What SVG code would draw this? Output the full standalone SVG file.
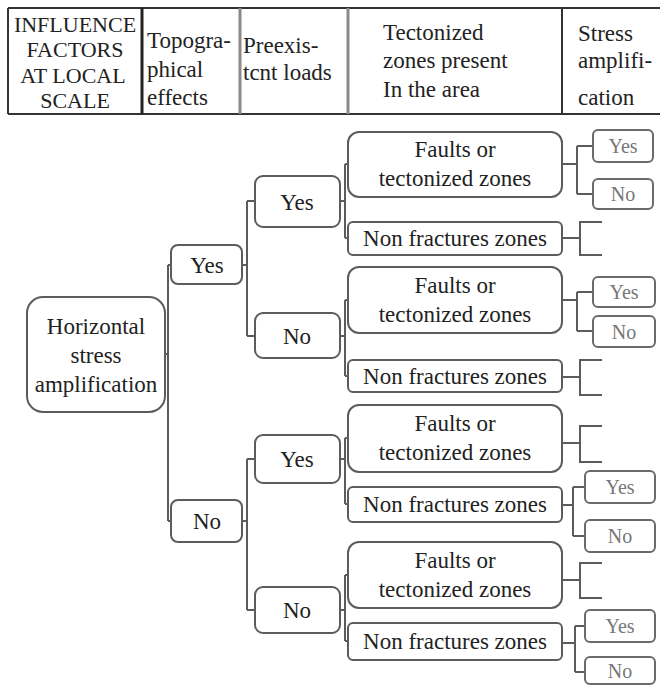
<svg xmlns="http://www.w3.org/2000/svg" width="665" height="686" viewBox="0 0 665 686" font-family="'Liberation Serif', 'Times New Roman', 'DejaVu Serif', serif">
<style>
text{font-family:'Liberation Serif','Times New Roman','DejaVu Serif',serif;fill:#222;}
.h{font-size:23px;}
.h1{font-size:22px;}
.t{font-size:23px;text-anchor:middle;}
.s{font-size:20px;text-anchor:middle;fill:#777;}
.box{fill:#fff;stroke:#5c5c5c;stroke-width:2;}
.sbox{fill:#fff;stroke:#6a6a6a;stroke-width:2;}
.c{fill:none;stroke:#5c5c5c;stroke-width:2;}
.g{stroke:#8a8a8a;stroke-width:3;}
.d{stroke:#333;stroke-width:2;}
</style>
<g id="header">
<line x1="8" y1="8" x2="660" y2="8" class="d"/>
<line x1="8" y1="114" x2="660" y2="114" class="d"/>
<line x1="8" y1="8" x2="8" y2="114" class="d"/>
<line x1="142" y1="8" x2="142" y2="114" stroke="#222" stroke-width="3"/>
<line x1="240" y1="8" x2="240" y2="114" class="g"/>
<line x1="348" y1="8" x2="348" y2="114" class="g"/>
<line x1="562" y1="8" x2="562" y2="114" class="d"/>
<text class="h1" text-anchor="middle"><tspan x="75" y="32">INFLUENCE</tspan><tspan x="75" y="57">FACTORS</tspan><tspan x="73" y="83">AT LOCAL</tspan><tspan x="75" y="108">SCALE</tspan></text>
<text class="h"><tspan x="147" y="48">Topogra-</tspan><tspan x="147" y="77">phical</tspan><tspan x="147" y="105">effects</tspan></text>
<text class="h"><tspan x="243" y="53">Preexis-</tspan><tspan x="243" y="80">tcnt loads</tspan></text>
<text class="h"><tspan x="383" y="40">Tectonized</tspan><tspan x="383" y="68">zones present</tspan><tspan x="383" y="97">In the area</tspan></text>
<text class="h"><tspan x="578" y="41">Stress</tspan><tspan x="578" y="68">amplifi-</tspan><tspan x="578" y="105">cation</tspan></text>
</g>
<g id="connectors" class="c">
<path d="M165 354H168M168 265V521M168 265H172M168 521H172"/>
<path d="M242 265H247M247 201V336M247 201H255M247 336H255"/>
<path d="M242 521H247M247 459V610M247 459H255M247 610H255"/>
<path d="M340 201H345M345 164V238M345 164H348M345 238H348"/>
<path d="M340 336H345M345 300V376M345 300H348M345 376H348"/>
<path d="M340 459H345M345 438V504M345 438H348M345 504H348"/>
<path d="M340 610H345M345 575V641M345 575H348M345 641H348"/>
<path d="M562 164H577M577 146V194M577 146H593M577 194H593"/>
<path d="M562 238H580M602 222H580V255H602"/>
<path d="M562 300H577M577 292V331M577 292H593M577 331H593"/>
<path d="M562 377H580M602 360H580V395H602"/>
<path d="M562 443H580M602 426H580V462H602"/>
<path d="M562 505H573M573 487V536M573 487H585M573 536H585"/>
<path d="M562 580H580M602 563H580V598H602"/>
<path d="M562 643H575M575 626V672M575 626H585M575 672H585"/>
</g>
<g id="root">
<rect x="27" y="297" width="138" height="115" rx="16" class="box"/>
<text class="t"><tspan x="96" y="334">Horizontal</tspan><tspan x="96" y="363">stress</tspan><tspan x="96" y="392">amplification</tspan></text>
</g>
<g id="l1-yes"><rect x="171" y="245" width="71" height="39" rx="7" class="box"/><text class="t" x="207" y="273">Yes</text></g>
<g id="l1-no"><rect x="171" y="500" width="71" height="42" rx="7" class="box"/><text class="t" x="207" y="529">No</text></g>
<g id="l2-yes1"><rect x="255" y="176" width="85" height="51" rx="8" class="box"/><text class="t" x="297" y="210">Yes</text></g>
<g id="l2-no1"><rect x="255" y="313" width="85" height="45" rx="8" class="box"/><text class="t" x="297" y="344">No</text></g>
<g id="l2-yes2"><rect x="255" y="435" width="85" height="48" rx="8" class="box"/><text class="t" x="297" y="467">Yes</text></g>
<g id="l2-no2"><rect x="255" y="587" width="85" height="46" rx="8" class="box"/><text class="t" x="297" y="618">No</text></g>
<g id="l3-f1"><rect x="348" y="132" width="214" height="65" rx="11" class="box"/><text class="t"><tspan x="455" y="157">Faults or</tspan><tspan x="455" y="186">tectonized zones</tspan></text></g>
<g id="l3-n1"><rect x="348" y="222" width="214" height="33" rx="5" class="box"/><text class="t" x="455" y="246">Non fractures zones</text></g>
<g id="l3-f2"><rect x="348" y="267" width="214" height="66" rx="11" class="box"/><text class="t"><tspan x="455" y="293">Faults or</tspan><tspan x="455" y="322">tectonized zones</tspan></text></g>
<g id="l3-n2"><rect x="348" y="360" width="214" height="32" rx="5" class="box"/><text class="t" x="455" y="384">Non fractures zones</text></g>
<g id="l3-f3"><rect x="348" y="405" width="214" height="67" rx="11" class="box"/><text class="t"><tspan x="455" y="431">Faults or</tspan><tspan x="455" y="460">tectonized zones</tspan></text></g>
<g id="l3-n3"><rect x="348" y="487" width="214" height="35" rx="5" class="box"/><text class="t" x="455" y="512">Non fractures zones</text></g>
<g id="l3-f4"><rect x="348" y="542" width="214" height="66" rx="11" class="box"/><text class="t"><tspan x="455" y="568">Faults or</tspan><tspan x="455" y="597">tectonized zones</tspan></text></g>
<g id="l3-n4"><rect x="348" y="623" width="214" height="37" rx="5" class="box"/><text class="t" x="455" y="649">Non fractures zones</text></g>
<g id="l4-y1"><rect x="593" y="130" width="60" height="32" rx="5" class="sbox"/><text class="s" x="623" y="153">Yes</text></g>
<g id="l4-n1"><rect x="593" y="179" width="60" height="30" rx="5" class="sbox"/><text class="s" x="623" y="201">No</text></g>
<g id="l4-y2"><rect x="593" y="277" width="62" height="30" rx="5" class="sbox"/><text class="s" x="624" y="299">Yes</text></g>
<g id="l4-n2"><rect x="593" y="316" width="62" height="31" rx="5" class="sbox"/><text class="s" x="624" y="339">No</text></g>
<g id="l4-y3"><rect x="585" y="471" width="70" height="32" rx="5" class="sbox"/><text class="s" x="620" y="494">Yes</text></g>
<g id="l4-n3"><rect x="585" y="520" width="70" height="32" rx="5" class="sbox"/><text class="s" x="620" y="543">No</text></g>
<g id="l4-y4"><rect x="585" y="610" width="70" height="32" rx="5" class="sbox"/><text class="s" x="620" y="633">Yes</text></g>
<g id="l4-n4"><rect x="585" y="657" width="70" height="27" rx="5" class="sbox"/><text class="s" x="620" y="678">No</text></g>
</svg>
